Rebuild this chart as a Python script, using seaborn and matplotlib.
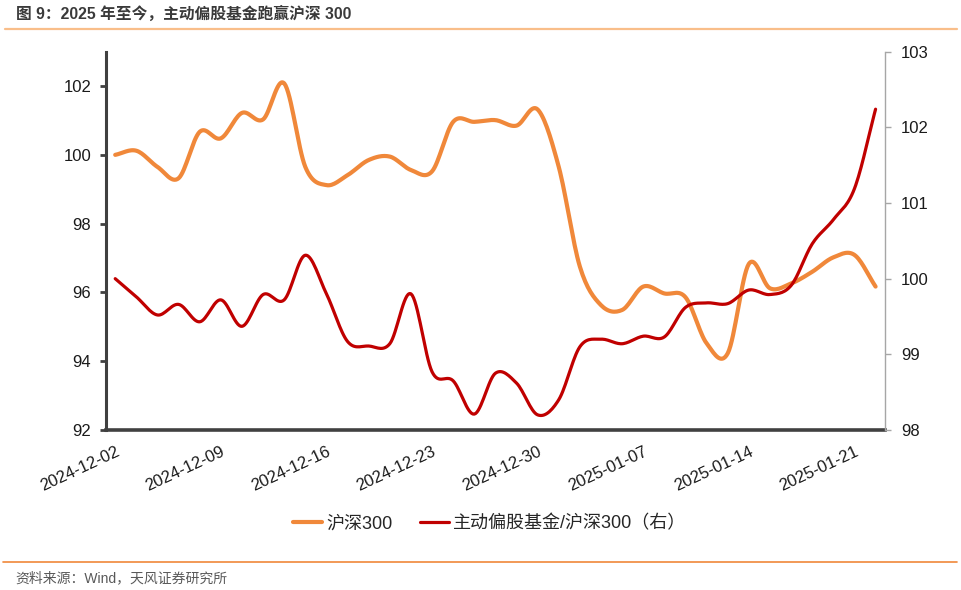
import numpy as np
import pandas as pd
import matplotlib
matplotlib.use("Agg")
import matplotlib.pyplot as plt
from matplotlib.lines import Line2D
import seaborn as sns

# ---------------- data ----------------
dates = [
    "2024-12-02", "2024-12-03", "2024-12-04", "2024-12-05", "2024-12-06",
    "2024-12-09", "2024-12-10", "2024-12-11", "2024-12-12", "2024-12-13",
    "2024-12-16", "2024-12-17", "2024-12-18", "2024-12-19", "2024-12-20",
    "2024-12-23", "2024-12-24", "2024-12-25", "2024-12-26", "2024-12-27",
    "2024-12-30", "2024-12-31", "2025-01-02", "2025-01-03", "2025-01-06",
    "2025-01-07", "2025-01-08", "2025-01-09", "2025-01-10", "2025-01-13",
    "2025-01-14", "2025-01-15", "2025-01-16", "2025-01-17", "2025-01-20",
    "2025-01-21", "2025-01-22",
]
hs300 = [
    100.00, 100.12, 99.65, 99.32, 100.67, 100.48, 101.22, 101.03, 102.08, 99.65,
    99.12, 99.41, 99.85, 99.95, 99.56, 99.52, 100.96, 100.96, 101.01, 100.85,
    101.32, 99.65, 96.75, 95.63, 95.49, 96.17, 95.97, 95.86, 94.52, 94.23,
    96.83, 96.12, 96.26, 96.60, 97.02, 97.09, 96.17,
]
ratio = [
    100.00, 99.76, 99.52, 99.66, 99.43, 99.72, 99.37, 99.79, 99.72, 100.31,
    99.80, 99.17, 99.11, 99.14, 99.80, 98.77, 98.65, 98.21, 98.75, 98.62,
    98.20, 98.40, 99.10, 99.20, 99.14, 99.24, 99.23, 99.62, 99.68, 99.67,
    99.85, 99.79, 99.91, 100.46, 100.78, 101.19, 102.24,
]
series_names = ["沪深300", "主动偏股基金/沪深300（右）"]
left_ticks = [92, 94, 96, 98, 100, 102]
right_ticks = [98, 99, 100, 101, 102, 103]
title = "图 9：2025 年至今，主动偏股基金跑赢沪深 300"
source = "资料来源：Wind，天风证券研究所"

ORANGE = "#F0883A"
RED = "#C00000"


def smooth(vals, n=16):
    """Cardinal (Catmull-Rom) smoothing through the data points, like Excel's smoothed lines."""
    y = np.asarray(vals, float)
    p = np.concatenate([[2 * y[0] - y[1]], y, [2 * y[-1] - y[-2]]])
    xs, ys = [], []
    t = np.linspace(0, 1, n, endpoint=False)
    h00 = 2 * t**3 - 3 * t**2 + 1
    h10 = t**3 - 2 * t**2 + t
    h01 = -2 * t**3 + 3 * t**2
    h11 = t**3 - t**2
    for i in range(len(y) - 1):
        p0, p1, p2, p3 = p[i], p[i + 1], p[i + 2], p[i + 3]
        m1 = (p2 - p0) / 2
        m2 = (p3 - p1) / 2
        ys.append(h00 * p1 + h10 * m1 + h01 * p2 + h11 * m2)
        xs.append(i + t)
    xs.append([len(y) - 1])
    ys.append([y[-1]])
    return np.concatenate(xs), np.concatenate(ys)


x1, y1 = smooth(hs300)
x2, y2 = smooth(ratio)
df1 = pd.DataFrame({"x": x1, "y": y1})
df2 = pd.DataFrame({"x": x2, "y": y2})

# ---------------- style ----------------
sns.set_theme(style="white")
plt.rcParams["font.family"] = ["Liberation Sans", "Noto Sans CJK SC", "DejaVu Sans"]

fig = plt.figure(figsize=(9.61, 5.90), dpi=100)
ax = fig.add_axes([0.110, 0.2712, 0.811, 0.6412])
ax2 = ax.twinx()

sns.lineplot(data=df1, x="x", y="y", ax=ax, color=ORANGE, linewidth=3.0, sort=False)
sns.lineplot(data=df2, x="x", y="y", ax=ax2, color=RED, linewidth=2.3, sort=False)

ax.set_xlim(-0.45, 36.45)
ax.set_ylim(92, 103)
ax2.set_ylim(98, 103)
ax.set_yticks(left_ticks)
ax2.set_yticks(right_ticks)
ax.set_xticks(range(0, len(dates), 5))
ax.set_xticklabels(dates[::5], rotation=25, ha="right", rotation_mode="anchor")
ax.set_xlabel("")
ax.set_ylabel("")
ax2.set_ylabel("")

for a in (ax, ax2):
    a.grid(False)
    a.spines["top"].set_visible(False)
ax.spines["right"].set_visible(False)
ax2.spines["left"].set_visible(False)
ax2.spines["bottom"].set_visible(False)
ax.spines["left"].set_color("#404040")
ax.spines["left"].set_linewidth(2.2)
ax.spines["bottom"].set_color("#404040")
ax.spines["bottom"].set_linewidth(2.6)
ax2.spines["right"].set_color("#A6A6A6")
ax2.spines["right"].set_linewidth(1.0)

ax.tick_params(axis="y", which="major", left=True, length=4.5, width=2.0, color="#404040",
               labelsize=12, labelcolor="#1a1a1a", pad=6)
ax.tick_params(axis="x", which="major", bottom=False, length=0, labelsize=12,
               labelcolor="#1a1a1a", pad=10)
ax2.tick_params(axis="y", which="major", right=True, length=4.5, width=1.0, color="#A6A6A6",
                labelsize=12, labelcolor="#1a1a1a", pad=7)

# legend
handles = [Line2D([0], [0], color=ORANGE, lw=3.0), Line2D([0], [0], color=RED, lw=2.3)]
fig.legend(handles, series_names, loc="center", bbox_to_anchor=(490 / 961, 1 - 524 / 590),
           ncol=2, frameon=False, fontsize=13, handlelength=1.6, handletextpad=0.25,
           columnspacing=1.5)

# title, rules and source
fig.text(16 / 961, 1 - 15 / 590, title, fontsize=11.3, fontweight="bold", color="#3a3a3a",
         ha="left", va="center")
fig.add_artist(Line2D([5 / 961, 957 / 961], [1 - 29 / 590] * 2, color="#F9BE8A", lw=1.6,
                      transform=fig.transFigure))
fig.add_artist(Line2D([3 / 961, 957 / 961], [1 - 562 / 590] * 2, color="#F0883A", lw=1.2,
                      transform=fig.transFigure))
fig.text(15 / 961, 1 - 578 / 590, source, fontsize=10, color="#595959", ha="left", va="center")

fig.savefig("out.png", dpi=100)
